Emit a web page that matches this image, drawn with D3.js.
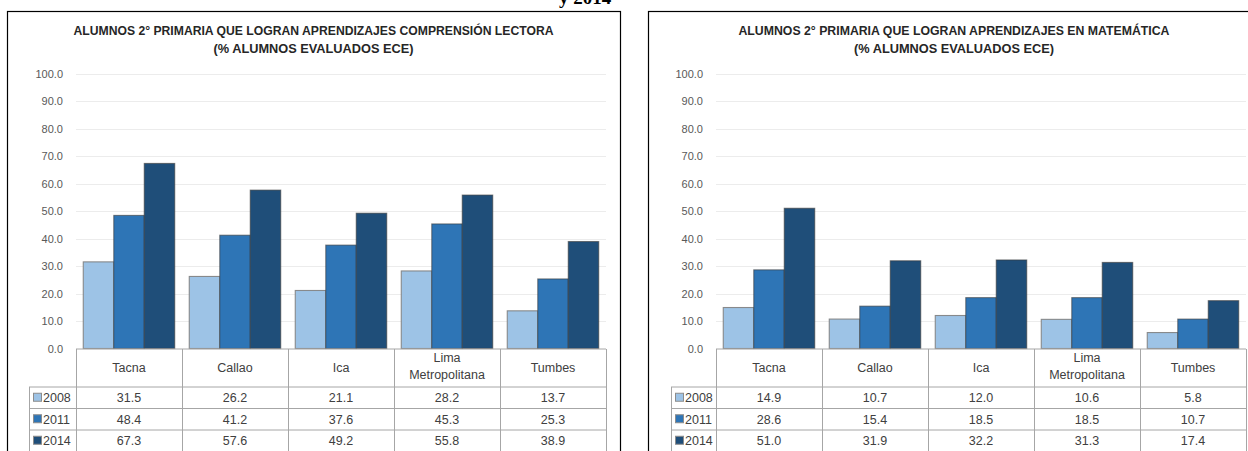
<!DOCTYPE html>
<html>
<head>
<meta charset="utf-8">
<script src="https://cdn.jsdelivr.net/npm/d3@7"></script>
<style>
  html, body { margin: 0; padding: 0; background: #ffffff; }
  svg { display: block; }
</style>
</head>
<body>
<svg id="chart" width="1248" height="451"></svg>
<script>
// Regions shown on both charts
const regions = ["Tacna", "Callao", "Ica", "Lima Metropolitana", "Tumbes"];
const years = ["2008", "2011", "2014"];

// Comprensión lectora (% de alumnos evaluados ECE)
const lectura2008 = [31.5, 26.2, 21.1, 28.2, 13.7];
const lectura2011 = [48.4, 41.2, 37.6, 45.3, 25.3];
const lectura2014 = [67.3, 57.6, 49.2, 55.8, 38.9];

// Matemática (% de alumnos evaluados ECE)
const mate2008 = [14.9, 10.7, 12.0, 10.6, 5.8];
const mate2011 = [28.6, 15.4, 18.5, 18.5, 10.7];
const mate2014 = [51.0, 31.9, 32.2, 31.3, 17.4];

const yTicks = [0, 10, 20, 30, 40, 50, 60, 70, 80, 90, 100];

const yearColors = ["#9dc3e6", "#2e75b6", "#1f4e79"];
const narrow = "'Liberation Sans Narrow', 'Arial Narrow', 'Liberation Sans', sans-serif";

const svg = d3.select("#chart");

// Heading fragment above the charts
svg.append("text")
  .attr("x", 559).attr("y", 4)
  .attr("font-family", "'Liberation Serif', 'Times New Roman', serif")
  .attr("font-weight", "bold")
  .attr("font-size", 19)
  .attr("fill", "#000")
  .text("y 2014");

function drawChart(cfg) {
  const g = svg.append("g");
  const series = [cfg.v2008, cfg.v2011, cfg.v2014];

  // outer frame
  g.append("rect")
    .attr("x", cfg.frameX + 0.5).attr("y", 11.5)
    .attr("width", cfg.frameW).attr("height", 460)
    .attr("fill", "none").attr("stroke", "#000").attr("stroke-width", 1.2);

  // title
  const cx = cfg.frameX + cfg.frameW / 2;
  g.append("text")
    .attr("x", cx).attr("y", 35)
    .attr("text-anchor", "middle")
    .attr("font-family", narrow).attr("font-weight", "bold").attr("font-size", 13)
    .attr("fill", "#262626")
    .attr("textLength", cfg.titleW).attr("lengthAdjust", "spacingAndGlyphs")
    .text(cfg.title);
  g.append("text")
    .attr("x", cx).attr("y", 53)
    .attr("text-anchor", "middle")
    .attr("font-family", narrow).attr("font-weight", "bold").attr("font-size", 13)
    .attr("fill", "#262626")
    .attr("textLength", 200).attr("lengthAdjust", "spacingAndGlyphs")
    .text("(% ALUMNOS EVALUADOS ECE)");

  const y = d3.scaleLinear().domain([0, 100]).range([348.5, 73.5]);
  const cols = d3.scaleBand().domain(regions).range([cfg.x0, cfg.x1]).padding(0);
  const x = d3.scaleBand().domain(regions).range([cfg.x0, cfg.x1])
    .paddingInner(0.137).paddingOuter(0.0685);
  const xs = d3.scaleBand().domain(years).range([0, x.bandwidth()]).padding(0);

  // gridlines
  g.append("g").selectAll("line").data(yTicks.filter(d => d > 0)).join("line")
    .attr("x1", cfg.x0).attr("x2", cfg.x1)
    .attr("y1", d => Math.round(y(d)) + 0.5).attr("y2", d => Math.round(y(d)) + 0.5)
    .attr("stroke", "#ececec").attr("stroke-width", 1);

  // y axis labels
  const yAxis = d3.axisLeft(y).tickValues(yTicks).tickFormat(d3.format(".1f")).tickSize(0).tickPadding(0);
  const ya = g.append("g").attr("transform", `translate(${cfg.x0 - 13},0)`).call(yAxis);
  ya.select(".domain").remove();
  ya.selectAll("text")
    .attr("font-family", narrow).attr("font-size", 11).attr("fill", "#595959");

  // bars
  regions.forEach((r, i) => {
    const grp = g.append("g").attr("transform", `translate(${x(r)},0)`);
    grp.selectAll("rect").data(years.map((yr, k) => ({ yr, v: series[k][i], k }))).join("rect")
      .attr("x", d => xs(d.yr))
      .attr("y", d => y(d.v))
      .attr("width", xs.bandwidth())
      .attr("height", d => y(0) - y(d.v))
      .attr("fill", d => yearColors[d.k])
      .attr("stroke", d => d.k === 0 ? "#7f7f7f" : "#3a3a3a")
      .attr("stroke-opacity", d => d.k === 0 ? 0.9 : 0.6)
      .attr("stroke-width", 1.1);
  });

  // data table
  const lineCol = "#a6a6a6";
  const tbl = g.append("g").attr("stroke", lineCol).attr("stroke-width", 1).attr("fill", "none");
  const rowY = [348.5, 387, 408.5, 430, 451.5];
  // top edge (category axis)
  tbl.append("line").attr("x1", cfg.x0).attr("x2", cfg.x1).attr("y1", 349).attr("y2", 349);
  // horizontal rules through legend column
  [387, 408.5, 430].forEach(v => {
    tbl.append("line").attr("x1", cfg.legX).attr("x2", cfg.x1).attr("y1", v).attr("y2", v);
  });
  // vertical rules
  const vx = [cfg.x0].concat(regions.map(r => cols(r) + cols.bandwidth()));
  vx.forEach(v => {
    tbl.append("line").attr("x1", Math.round(v) + 0.5).attr("x2", Math.round(v) + 0.5)
      .attr("y1", 349).attr("y2", 460);
  });
  tbl.append("line").attr("x1", cfg.legX + 0.5).attr("x2", cfg.legX + 0.5).attr("y1", 387).attr("y2", 460);

  // header labels
  regions.forEach(r => {
    const cxr = cols(r) + cols.bandwidth() / 2;
    const parts = r === "Lima Metropolitana" ? ["Lima", "Metropolitana"] : [r];
    const t = g.append("text").attr("text-anchor", "middle")
      .attr("font-family", narrow).attr("font-size", 12.5).attr("fill", "#404040");
    parts.forEach((p, j) => {
      t.append("tspan").attr("x", cxr)
        .attr("y", parts.length === 1 ? 372 : 362 + j * 17)
        .text(p);
    });
  });

  // values and legend keys
  years.forEach((yr, k) => {
    const cy = (rowY[k + 1] + rowY[k + 2]) / 2;
    g.append("rect")
      .attr("x", cfg.legX + 4.5).attr("y", cy - 4.5).attr("width", 8).attr("height", 8)
      .attr("fill", yearColors[k]).attr("stroke", "#8c8c8c").attr("stroke-width", 1);
    g.append("text")
      .attr("x", cfg.legX + 14).attr("y", cy + 4.5)
      .attr("font-family", narrow).attr("font-size", 12.5).attr("fill", "#404040")
      .text(yr);
    regions.forEach((r, i) => {
      g.append("text")
        .attr("x", cols(r) + cols.bandwidth() / 2).attr("y", cy + 4.5)
        .attr("text-anchor", "middle")
        .attr("font-family", narrow).attr("font-size", 12.5).attr("fill", "#404040")
        .text(d3.format(".1f")(series[k][i]));
    });
  });
}

drawChart({
  frameX: 7, frameW: 613,
  x0: 76, x1: 606, legX: 29,
  title: "ALUMNOS 2° PRIMARIA QUE LOGRAN APRENDIZAJES COMPRENSIÓN LECTORA",
  titleW: 480,
  v2008: lectura2008, v2011: lectura2011, v2014: lectura2014
});

drawChart({
  frameX: 648, frameW: 612,
  x0: 716, x1: 1246, legX: 671,
  title: "ALUMNOS 2° PRIMARIA QUE LOGRAN APRENDIZAJES EN MATEMÁTICA",
  titleW: 431,
  v2008: mate2008, v2011: mate2011, v2014: mate2014
});
</script>
</body>
</html>
